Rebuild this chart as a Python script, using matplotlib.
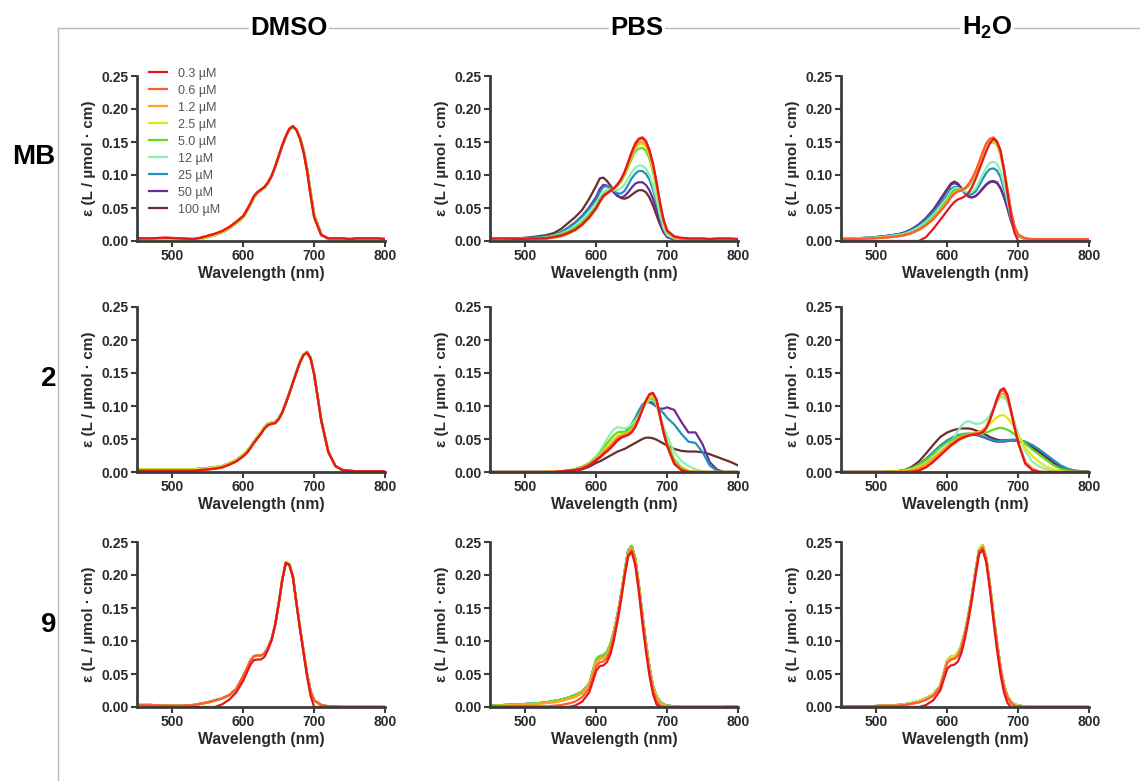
import numpy as np
import matplotlib
matplotlib.use("Agg")
import matplotlib.pyplot as plt
from matplotlib.lines import Line2D
from matplotlib.ticker import FormatStrFormatter

plt.rcParams['font.family'] = ['Liberation Sans', 'DejaVu Sans']
plt.rcParams['font.weight'] = 'bold'
plt.rcParams['mathtext.fontset'] = 'custom'
plt.rcParams['mathtext.rm'] = 'Liberation Sans'
plt.rcParams['mathtext.bf'] = 'Liberation Sans:bold'

# wavelength grid (nm) shared by every spectrum
WL = [450, 470, 490, 510, 530,
      540, 550, 560, 570, 580, 590,
      600, 605, 610, 615, 620, 625, 630, 635, 640, 645, 650,
      655, 660, 665, 670, 675, 680, 685, 690, 695, 700,
      710, 720, 730, 740, 750, 760, 770, 780, 790, 800]

conc_labels = ['0.3 µM', '0.6 µM', '1.2 µM', '2.5 µM', '5.0 µM',
               '12 µM', '25 µM', '50 µM', '100 µM']
conc_colors = ['#e3191c', '#ff5a3a', '#ffa31f', '#e4e41c', '#5fdc1c',
               '#8ef0b3', '#1f93c0', '#6a2c9a', '#6b2d2d']

col_titles = ['DMSO', 'PBS', r'$\mathbf{H_2O}$']
row_titles = ['MB', '2', '9']

# ---- MB ----
mb_dmso_lo = [.004, .004, .005, .004, .003,
              .005, .008, .011, .015, .021, .029,
              .038, .047, .057, .068, .074, .078, .082, .089, .099, .113, .129,
              .145, .159, .170, .174, .168, .155, .135, .106, .069, .036,
              .009, .004, .004, .004, .003, .004, .004, .004, .004, .003]
mb_dmso_hi = [.001, .001, .001, .001, .002,
              .003, .006, .009, .013, .019, .027,
              .036, .045, .055, .066, .073, .077, .081, .088, .098, .112, .128,
              .144, .158, .169, .173, .169, .157, .138, .110, .074, .040,
              .010, .003, .001, .001, 0, 0, 0, 0, 0, 0]

mb_pbs_0p3 = [.004, .004, .003, .004, .004,
              .006, .008, .012, .017, .025, .036,
              .050, .060, .068, .072, .076, .080, .086, .094, .105, .120, .135,
              .148, .155, .157, .152, .138, .118, .090, .058, .032, .016,
              .007, .005, .004, .004, .004, .003, .004, .004, .004, .003]
mb_pbs_0p6 = [.003, .003, .003, .003, .004,
              .006, .008, .012, .017, .025, .036,
              .050, .060, .068, .072, .076, .080, .086, .093, .104, .118, .133,
              .146, .153, .155, .150, .136, .116, .088, .057, .031, .015,
              .006, .004, .003, .003, .003, .003, .003, .003, .003, .002]
mb_pbs_1p2 = [.003, .003, .003, .003, .004,
              .005, .007, .011, .016, .024, .035,
              .049, .059, .067, .072, .076, .080, .085, .093, .103, .117, .131,
              .143, .149, .150, .146, .133, .113, .086, .056, .031, .015,
              .006, .003, .002, .002, .002, .002, .002, .002, .002, .002]
mb_pbs_2p5 = [.002, .002, .003, .003, .004,
              .005, .007, .011, .016, .024, .035,
              .049, .059, .067, .072, .076, .079, .084, .092, .101, .115, .129,
              .141, .146, .147, .143, .130, .110, .084, .054, .030, .014,
              .005, .002, .001, .001, .001, .001, .001, .001, .001, .001]
mb_pbs_5 = [.002, .002, .003, .004, .005,
            .007, .010, .014, .020, .028, .039,
            .052, .062, .070, .074, .077, .079, .083, .090, .099, .112, .125,
            .136, .140, .141, .137, .125, .105, .080, .052, .028, .013,
            .005, .002, .001, .001, .001, .001, .001, .001, .001, .001]
mb_pbs_12 = [.002, .003, .003, .004, .005,
             .008, .011, .016, .023, .032, .043,
             .056, .066, .074, .078, .078, .077, .077, .080, .086, .095, .104,
             .111, .114, .114, .110, .100, .085, .064, .040, .020, .009,
             .004, .002, .001, .001, .001, .001, .001, .001, .001, .001]
mb_pbs_25 = [.002, .003, .004, .005, .007,
             .009, .013, .019, .027, .037, .049,
             .063, .074, .082, .083, .081, .076, .072, .072, .076, .085, .095,
             .102, .106, .106, .102, .093, .078, .058, .036, .018, .008,
             .003, .002, .001, .001, .001, .001, .001, .001, .001, .001]
mb_pbs_50 = [.002, .003, .003, .005, .007,
             .009, .013, .020, .028, .038, .051,
             .067, .079, .085, .084, .079, .073, .068, .066, .068, .074, .081,
             .087, .089, .089, .085, .077, .064, .048, .030, .015, .006,
             .002, .001, .001, .001, .001, .001, .001, .001, .001, .001]
mb_pbs_100 = [.002, .003, .004, .006, .009,
              .012, .018, .027, .036, .047, .064,
              .084, .095, .096, .091, .084, .076, .069, .065, .064, .066, .070,
              .074, .077, .077, .074, .066, .054, .039, .025, .013, .006,
              .003, .002, .001, .001, .001, .001, .001, .001, .001, .001]

mb_h2o_0p3 = [0, 0, 0, 0, 0,
              0, 0, 0, .006, .018, .032,
              .046, .053, .059, .063, .065, .068, .073, .082, .094, .108, .122,
              .136, .148, .155, .150, .138, .108, .072, .037, .012, 0,
              0, 0, 0, 0, 0, 0, 0, 0, 0, 0]
mb_h2o_0p6 = [.003, .003, .004, .005, .007,
              .009, .012, .017, .024, .033, .045,
              .058, .066, .072, .075, .077, .080, .086, .095, .106, .120, .135,
              .148, .155, .157, .152, .136, .110, .078, .046, .022, .010,
              .004, .003, .003, .003, .003, .003, .003, .003, .003, .003]
mb_h2o_1p2 = [.003, .003, .004, .005, .007,
              .009, .012, .017, .024, .033, .045,
              .058, .066, .072, .075, .077, .080, .086, .094, .105, .119, .134,
              .147, .154, .156, .151, .135, .109, .077, .045, .021, .009,
              .003, .002, .002, .002, .002, .002, .002, .002, .002, .002]
mb_h2o_2p5 = [.003, .003, .004, .005, .007,
              .009, .012, .017, .024, .034, .046,
              .059, .067, .073, .076, .077, .080, .085, .093, .103, .116, .131,
              .143, .150, .152, .147, .132, .106, .075, .044, .021, .009,
              .003, .002, .001, .001, .001, .001, .001, .001, .001, .001]
mb_h2o_5 = [.003, .003, .004, .005, .008,
            .010, .013, .018, .026, .036, .048,
            .062, .071, .077, .078, .078, .079, .083, .091, .101, .114, .129,
            .141, .148, .150, .146, .131, .105, .074, .043, .020, .009,
            .003, .002, .001, .001, .001, .001, .001, .001, .001, .001]
mb_h2o_12 = [.003, .004, .005, .006, .009,
             .011, .015, .021, .029, .039, .052,
             .066, .075, .080, .080, .078, .075, .073, .075, .080, .090, .101,
             .111, .118, .120, .117, .106, .086, .061, .036, .017, .008,
             .003, .002, .001, .001, .001, .001, .001, .001, .001, .001]
mb_h2o_25 = [.003, .004, .005, .007, .010,
             .012, .017, .023, .032, .043, .056,
             .070, .079, .082, .081, .077, .073, .070, .071, .075, .084, .094,
             .103, .109, .110, .107, .097, .079, .057, .034, .016, .008,
             .003, .002, .001, .001, .001, .001, .001, .001, .001, .001]
mb_h2o_50 = [.003, .004, .005, .007, .010,
             .013, .018, .025, .034, .046, .061,
             .077, .085, .088, .085, .079, .072, .067, .066, .068, .073, .080,
             .086, .090, .091, .089, .081, .067, .049, .030, .015, .007,
             .003, .002, .001, .001, .001, .001, .001, .001, .001, .001]
mb_h2o_100 = [.003, .004, .005, .007, .010,
              .013, .018, .025, .035, .047, .063,
              .079, .087, .090, .087, .080, .073, .068, .066, .068, .073, .079,
              .085, .089, .090, .088, .080, .067, .050, .031, .016, .008,
              .004, .002, .001, .001, .001, .001, .001, .001, .001, .001]

# ---- compound 2 ----
c2_dmso_lo = [.002, .002, .002, .002, .002,
              .003, .004, .005, .007, .011, .016,
              .024, .029, .036, .044, .051, .058, .066, .071, .073, .074, .080,
              .090, .104, .119, .135, .151, .166, .177, .181, .172, .148,
              .078, .030, .009, .003, .002, .001, .001, .001, .001, .001]
c2_dmso_hi = [.004, .004, .004, .004, .004,
              .005, .006, .007, .009, .013, .018,
              .026, .031, .038, .046, .053, .060, .068, .073, .075, .076, .081,
              .091, .105, .120, .136, .152, .167, .178, .182, .173, .149,
              .079, .031, .009, .003, .001, 0, 0, 0, 0, 0]

c2_pbs_0p3 = [0, 0, 0, 0, 0,
              0, .001, .002, .003, .005, .010,
              .018, .022, .027, .031, .036, .042, .048, .052, .054, .056, .060,
              .068, .080, .094, .108, .118, .120, .110, .085, .060, .040,
              .013, .003, 0, 0, 0, 0, 0, 0, 0, 0]
c2_pbs_0p6 = [0, 0, 0, 0, 0,
              0, .001, .002, .003, .006, .011,
              .019, .023, .028, .033, .038, .044, .050, .053, .055, .057, .061,
              .069, .081, .095, .108, .117, .119, .109, .084, .059, .039,
              .012, .003, 0, 0, 0, 0, 0, 0, 0, 0]
c2_pbs_1p2 = [0, 0, 0, 0, 0,
              .001, .001, .002, .004, .007, .012,
              .020, .024, .030, .035, .040, .046, .052, .055, .057, .059, .063,
              .071, .083, .096, .108, .116, .118, .108, .084, .060, .040,
              .014, .004, .001, 0, 0, 0, 0, 0, 0, 0]
c2_pbs_2p5 = [0, 0, 0, 0, 0,
              .001, .001, .002, .004, .007, .012,
              .021, .026, .032, .038, .044, .050, .055, .057, .058, .060, .064,
              .072, .083, .095, .106, .113, .115, .106, .083, .060, .041,
              .015, .005, .001, 0, 0, 0, 0, 0, 0, 0]
c2_pbs_5 = [0, 0, 0, 0, 0,
            .001, .001, .002, .004, .008, .013,
            .022, .028, .035, .043, .050, .056, .060, .061, .061, .063, .067,
            .074, .085, .096, .106, .111, .112, .104, .083, .063, .045,
            .019, .007, .002, 0, 0, 0, 0, 0, 0, 0]
c2_pbs_12 = [0, 0, 0, 0, 0,
             .001, .001, .002, .004, .008, .014,
             .024, .031, .040, .050, .058, .065, .068, .067, .066, .068, .072,
             .078, .086, .095, .103, .109, .110, .102, .085, .068, .055,
             .030, .017, .009, .004, .001, 0, 0, 0, 0, 0]
c2_pbs_25 = [0, 0, 0, 0, 0,
             .001, .001, .002, .004, .008, .013,
             .020, .025, .030, .036, .042, .047, .052, .056, .060, .066, .073,
             .082, .093, .102, .107, .108, .105, .100, .094, .089, .082,
             .072, .058, .046, .044, .030, .010, .002, 0, 0, 0]
c2_pbs_50 = [0, 0, 0, 0, 0,
             .001, .001, .002, .004, .007, .011,
             .018, .022, .027, .032, .037, .042, .048, .052, .055, .061, .068,
             .078, .088, .098, .105, .106, .103, .099, .096, .096, .098,
             .094, .076, .060, .060, .042, .015, .004, 0, 0, 0]
c2_pbs_100 = [0, 0, 0, 0, 0,
              0, 0, .001, .002, .004, .008,
              .014, .016, .019, .022, .025, .028, .031, .033, .035, .038, .041,
              .044, .047, .050, .052, .052, .051, .049, .046, .043, .040,
              .035, .032, .031, .031, .030, .027, .023, .019, .015, .010]

c2_h2o_0p3 = [0, 0, 0, 0, 0,
              0, 0, .002, .007, .015, .025,
              .035, .040, .044, .048, .051, .053, .055, .056, .057, .058, .060,
              .066, .078, .094, .111, .124, .127, .117, .093, .068, .045,
              .013, .003, 0, 0, 0, 0, 0, 0, 0, 0]
c2_h2o_0p6 = [0, 0, 0, 0, 0,
              0, .001, .003, .008, .016, .026,
              .036, .041, .045, .049, .052, .054, .056, .057, .058, .059, .061,
              .067, .079, .094, .110, .122, .124, .114, .091, .066, .044,
              .013, .003, 0, 0, 0, 0, 0, 0, 0, 0]
c2_h2o_1p2 = [0, 0, 0, 0, 0,
              .001, .003, .006, .012, .020, .030,
              .039, .043, .047, .050, .053, .055, .057, .058, .059, .060, .063,
              .069, .080, .094, .108, .117, .119, .110, .090, .067, .046,
              .016, .005, .001, 0, 0, 0, 0, 0, 0, 0]
c2_h2o_2p5 = [0, 0, 0, 0, .001,
              .002, .004, .008, .013, .020, .028,
              .035, .039, .043, .047, .050, .053, .056, .058, .059, .061, .064,
              .068, .073, .078, .083, .086, .086, .082, .075, .066, .055,
              .037, .024, .015, .008, .004, .001, 0, 0, 0, 0]
c2_h2o_5 = [0, 0, 0, 0, .001,
            .003, .006, .011, .018, .027, .037,
            .045, .048, .051, .054, .056, .057, .058, .058, .058, .058, .059,
            .060, .062, .064, .066, .067, .066, .064, .061, .057, .052,
            .043, .034, .026, .018, .010, .005, .002, 0, 0, 0]
c2_h2o_12 = [0, 0, 0, 0, .001,
             .002, .005, .009, .015, .022, .031,
             .040, .046, .053, .062, .070, .075, .077, .075, .073, .073, .075,
             .079, .086, .096, .106, .113, .114, .106, .092, .075, .058,
             .032, .016, .008, .004, .001, 0, 0, 0, 0, 0]
c2_h2o_25 = [0, 0, 0, 0, .001,
             .003, .006, .012, .020, .030, .040,
             .048, .051, .054, .056, .057, .058, .058, .058, .057, .056, .054,
             .052, .050, .048, .047, .047, .047, .048, .049, .049, .049,
             .046, .041, .034, .026, .018, .010, .005, .002, .001, .001]
c2_h2o_50 = [0, 0, 0, 0, .001,
             .003, .006, .011, .019, .029, .039,
             .047, .050, .053, .055, .056, .057, .057, .057, .056, .055, .053,
             .051, .049, .047, .046, .046, .046, .047, .048, .048, .048,
             .045, .040, .033, .025, .017, .009, .004, .002, .001, .001]
c2_h2o_100 = [0, 0, 0, 0, .001,
              .003, .008, .016, .028, .041, .053,
              .060, .062, .064, .065, .066, .066, .066, .065, .063, .061, .059,
              .056, .053, .051, .049, .048, .048, .048, .048, .048, .047,
              .043, .037, .030, .022, .014, .007, .003, .001, 0, 0]

# ---- compound 9 ----
c9_dmso_hi = [.003, .003, .002, .002, .003,
              .005, .007, .010, .013, .018, .027,
              .047, .058, .070, .077, .078, .078, .081, .090, .103, .125, .157,
              .193, .219, .216, .198, .158, .120, .085, .050, .024, .010,
              .003, .001, .001, 0, 0, 0, 0, 0, 0, 0]
c9_dmso_lo = [0, 0, 0, 0, 0,
              0, 0, 0, .004, .011, .022,
              .040, .052, .064, .071, .072, .072, .076, .087, .101, .124, .156,
              .192, .218, .215, .197, .157, .118, .082, .046, .017, 0,
              0, 0, 0, 0, 0, 0, 0, 0, 0, 0]

c9_pbs_hi = [.002, .003, .004, .005, .007,
             .009, .011, .014, .018, .023, .035,
             .072, .077, .078, .083, .095, .115, .140, .170, .205, .237, .244,
             .225, .185, .140, .098, .060, .032, .016, .008, .004, .002,
             .001, 0, 0, 0, 0, 0, 0, 0, .001, .001]
c9_pbs_mid = [.001, .002, .003, .004, .006,
              .007, .009, .012, .015, .021, .033,
              .068, .073, .074, .079, .091, .112, .138, .168, .203, .234, .240,
              .222, .182, .137, .095, .057, .030, .014, .006, .003, .001,
              0, 0, 0, 0, 0, 0, 0, 0, 0, 0]
c9_pbs_0p6 = [.001, .001, .001, .001, .001,
              .002, .003, .005, .008, .015, .028,
              .062, .068, .069, .074, .086, .108, .135, .165, .200, .231, .238,
              .219, .179, .133, .091, .053, .025, .009, .002, 0, 0,
              0, 0, 0, 0, 0, 0, 0, 0, 0, 0]
c9_pbs_0p3 = [0, 0, 0, 0, 0,
              0, 0, 0, .002, .008, .022,
              .055, .062, .063, .068, .080, .102, .130, .162, .198, .228, .235,
              .215, .175, .128, .085, .048, .020, .004, 0, 0, 0,
              0, 0, 0, 0, 0, 0, 0, 0, 0, 0]

c9_h2o_hi = [.001, .001, .001, .002, .003,
             .004, .006, .009, .013, .019, .032,
             .071, .076, .077, .082, .094, .114, .140, .171, .207, .239, .245,
             .226, .186, .141, .099, .061, .033, .016, .008, .004, .002,
             .001, 0, 0, 0, 0, 0, 0, 0, 0, 0]
c9_h2o_mid = [.001, .001, .001, .002, .002,
              .003, .005, .007, .011, .017, .030,
              .067, .072, .073, .078, .090, .111, .138, .169, .204, .236, .242,
              .223, .183, .138, .096, .058, .030, .014, .006, .002, .001,
              0, 0, 0, 0, 0, 0, 0, 0, 0, 0]
c9_h2o_0p3 = [0, 0, 0, 0, 0,
              0, 0, 0, .003, .010, .025,
              .058, .063, .064, .069, .082, .104, .132, .164, .200, .232, .238,
              .219, .179, .132, .088, .050, .022, .006, 0, 0, 0,
              0, 0, 0, 0, 0, 0, 0, 0, 0, 0]

# spectra per panel, in concentration order 0.3 ... 100 uM
panels = [
    [[mb_dmso_lo] * 3 + [mb_dmso_hi] * 6,
     [mb_pbs_0p3, mb_pbs_0p6, mb_pbs_1p2, mb_pbs_2p5, mb_pbs_5,
      mb_pbs_12, mb_pbs_25, mb_pbs_50, mb_pbs_100],
     [mb_h2o_0p3, mb_h2o_0p6, mb_h2o_1p2, mb_h2o_2p5, mb_h2o_5,
      mb_h2o_12, mb_h2o_25, mb_h2o_50, mb_h2o_100]],
    [[c2_dmso_lo] * 3 + [c2_dmso_hi] * 6,
     [c2_pbs_0p3, c2_pbs_0p6, c2_pbs_1p2, c2_pbs_2p5, c2_pbs_5,
      c2_pbs_12, c2_pbs_25, c2_pbs_50, c2_pbs_100],
     [c2_h2o_0p3, c2_h2o_0p6, c2_h2o_1p2, c2_h2o_2p5, c2_h2o_5,
      c2_h2o_12, c2_h2o_25, c2_h2o_50, c2_h2o_100]],
    [[c9_dmso_lo] + [c9_dmso_hi] * 8,
     [c9_pbs_0p3, c9_pbs_0p6] + [c9_pbs_mid] * 2 + [c9_pbs_hi] * 5,
     [c9_h2o_0p3] + [c9_h2o_mid] * 2 + [c9_h2o_hi] * 6],
]

W, H = 1140, 781
fig = plt.figure(figsize=(W / 100, H / 100), dpi=100)

ax_left = [137, 490, 841]
ax_top = [76, 307, 542]
ax_w, ax_h = 248, 165
spine_col = '#3c3c3c'

# thin grey frame lines (top and left)
fig.add_artist(Line2D([58 / W, 1], [1 - 28 / H, 1 - 28 / H], transform=fig.transFigure,
                      color='#b8b8b8', lw=1))
fig.add_artist(Line2D([58 / W, 58 / W], [0, 1 - 28 / H], transform=fig.transFigure,
                      color='#b8b8b8', lw=1))

for r in range(3):
    for c in range(3):
        ax = fig.add_axes([ax_left[c] / W, 1 - (ax_top[r] + ax_h) / H, ax_w / W, ax_h / H])
        spectra = panels[r][c]
        handles = [None] * 9
        # highest concentration first so the 0.3 uM trace ends on top
        for k in range(8, -1, -1):
            ln, = ax.plot(WL, spectra[k], color=conc_colors[k], lw=1.6,
                          solid_joinstyle='round')
            handles[k] = ln
        ax.set_xlim(450, 800)
        ax.set_ylim(0, 0.25)
        ax.set_xticks([500, 600, 700, 800])
        ax.set_yticks([0, 0.05, 0.10, 0.15, 0.20, 0.25])
        ax.yaxis.set_major_formatter(FormatStrFormatter('%.2f'))
        for s in ['top', 'right']:
            ax.spines[s].set_visible(False)
        for s in ['left', 'bottom']:
            ax.spines[s].set_linewidth(2)
            ax.spines[s].set_color(spine_col)
        ax.tick_params(direction='out', length=4, width=1.5, color=spine_col,
                       labelsize=10, labelcolor='#2a2a2a', pad=2)
        ax.set_xlabel('Wavelength (nm)', fontsize=11.3, fontweight='bold',
                      color='#2a2a2a', labelpad=2)
        ax.set_ylabel('ε (L / µmol · cm)', fontsize=11, fontweight='bold',
                      color='#2a2a2a', labelpad=4)
        ax.patch.set_alpha(0)
        if r == 0 and c == 0:
            leg = ax.legend(handles, conc_labels, loc='upper left',
                            bbox_to_anchor=(0.05, 1.05), frameon=False,
                            handlelength=1.4, handletextpad=0.9,
                            labelspacing=0.4, borderaxespad=0, borderpad=0,
                            prop={'size': 9, 'weight': 'normal'})
            for t in leg.get_texts():
                t.set_color('#555555')

col_x = [289, 637, 987]
for c in range(3):
    fig.text(col_x[c] / W, 1 - 28 / H, col_titles[c], ha='center', va='center',
             fontsize=18.5, fontweight='bold',
             bbox=dict(facecolor='white', edgecolor='none', pad=1))

row_xy = [(34, 157), (49, 379), (49, 625)]
for r in range(3):
    fig.text(row_xy[r][0] / W, 1 - row_xy[r][1] / H, row_titles[r], ha='center',
             va='center', fontsize=20, fontweight='bold')

fig.savefig('out.png', dpi=100, facecolor='white')
